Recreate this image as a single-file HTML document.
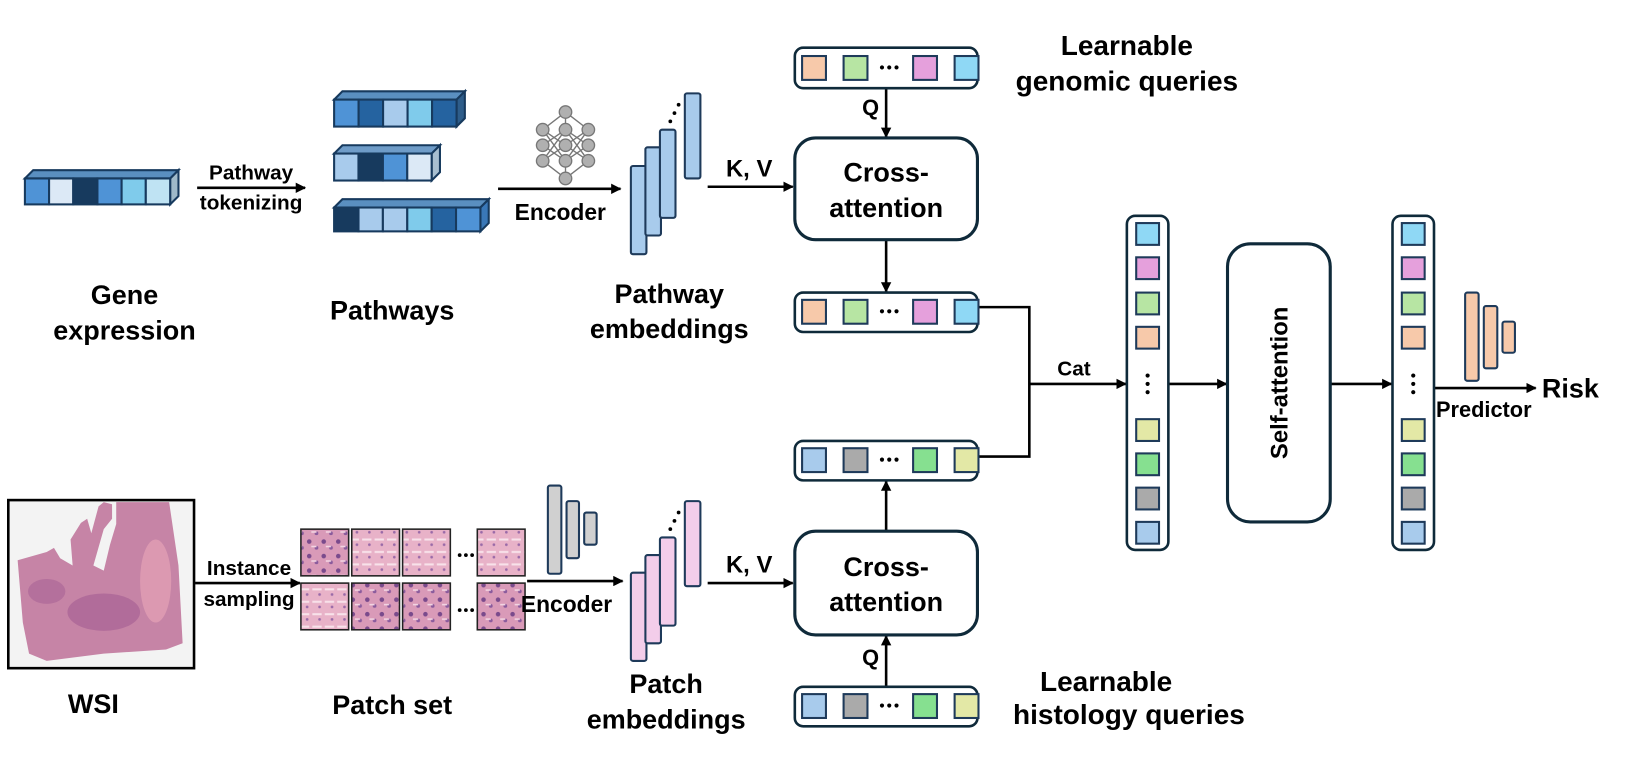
<!DOCTYPE html>
<html><head><meta charset="utf-8"><style>
html,body{margin:0;padding:0;background:#fff;}
svg{display:block;}
text{font-family:"Liberation Sans",sans-serif;font-weight:bold;fill:#000;}
</style></head><body>
<svg width="1627" height="760" viewBox="0 0 1568 732.5" preserveAspectRatio="none" xmlns="http://www.w3.org/2000/svg">
<defs>
<marker id="ah" markerWidth="10" markerHeight="10" refX="9" refY="5" orient="auto" markerUnits="userSpaceOnUse">
<path d="M0,0 L10,5 L0,10 z" fill="#000"/></marker>
<pattern id="tis" width="14" height="14" patternUnits="userSpaceOnUse">
<rect width="14" height="14" fill="#d99ab8"/>
<circle cx="4" cy="4" r="2.2" fill="#7a4a8c"/><circle cx="11" cy="10" r="1.8" fill="#8a5a9c"/><rect x="6" y="8" width="5" height="1.5" fill="#f3d6e3"/>
</pattern>
<pattern id="tis2" width="12" height="12" patternUnits="userSpaceOnUse">
<rect width="12" height="12" fill="#e8b2c8"/>
<rect x="1" y="3" width="9" height="2" fill="#f8e2ea"/><circle cx="8" cy="9" r="1.3" fill="#9a6aa8"/>
</pattern>
</defs>
<g stroke="#000" stroke-width="2.5" fill="none">
<line x1="190" y1="181" x2="294" y2="181" marker-end="url(#ah)"/>
<line x1="480" y1="182" x2="598" y2="182" marker-end="url(#ah)"/>
<line x1="682" y1="180" x2="764" y2="180" marker-end="url(#ah)"/>
<line x1="854" y1="85" x2="854" y2="132" marker-end="url(#ah)"/>
<line x1="854" y1="231" x2="854" y2="281" marker-end="url(#ah)"/>
<polyline points="942,296 992,296 992,440 942,440"/>
<line x1="992" y1="370" x2="1085" y2="370" marker-end="url(#ah)"/>
<line x1="1126" y1="370" x2="1182" y2="370" marker-end="url(#ah)"/>
<line x1="1282" y1="370" x2="1341" y2="370" marker-end="url(#ah)"/>
<line x1="1382" y1="374" x2="1480" y2="374" marker-end="url(#ah)"/>
<line x1="854" y1="512" x2="854" y2="464" marker-end="url(#ah)"/>
<line x1="854" y1="662" x2="854" y2="613" marker-end="url(#ah)"/>
<line x1="188" y1="562" x2="289" y2="562" marker-end="url(#ah)"/>
<line x1="508" y1="560" x2="600" y2="560" marker-end="url(#ah)"/>
<line x1="682" y1="562" x2="764" y2="562" marker-end="url(#ah)"/>
</g>
<!-- gene bar -->
<g stroke="#173a5e" stroke-width="2">
<polygon points="24,172 32,164 172,164 164,172" fill="#5a8fc0"/>
<polygon points="164,172 172,164 172,189 164,197" fill="#9fb9c9"/>
<rect x="24" y="172" width="23.3" height="25" fill="#4f93d6"/>
<rect x="47.3" y="172" width="23.3" height="25" fill="#dce9f6"/>
<rect x="70.6" y="172" width="23.3" height="25" fill="#173a5e"/>
<rect x="93.9" y="172" width="23.3" height="25" fill="#4f93d6"/>
<rect x="117.2" y="172" width="23.3" height="25" fill="#7fcbeb"/>
<rect x="140.5" y="172" width="23.5" height="25" fill="#bfe3f3"/>
</g>
<!-- pathway bars -->
<g stroke="#173a5e" stroke-width="2">
<polygon points="322,96 330,88 448,88 440,96" fill="#5a8fc0"/>
<polygon points="440,96 448,88 448,114 440,122" fill="#2e5d8a"/>
<rect x="322" y="96" width="23.6" height="26" fill="#4f93d6"/>
<rect x="345.6" y="96" width="23.6" height="26" fill="#2563a0"/>
<rect x="369.2" y="96" width="23.6" height="26" fill="#a8cbec"/>
<rect x="392.8" y="96" width="23.6" height="26" fill="#7fcbeb"/>
<rect x="416.4" y="96" width="23.6" height="26" fill="#2563a0"/>
<polygon points="322,148 330,140 424,140 416,148" fill="#6f9cc8"/>
<polygon points="416,148 424,140 424,166 416,174" fill="#a8bfd0"/>
<rect x="322" y="148" width="23.5" height="26" fill="#a8cbec"/>
<rect x="345.5" y="148" width="23.5" height="26" fill="#173a5e"/>
<rect x="369" y="148" width="23.5" height="26" fill="#4f93d6"/>
<rect x="392.5" y="148" width="23.5" height="26" fill="#dce9f6"/>
<polygon points="322,200 330,192 471,192 463,200" fill="#5a8fc0"/>
<polygon points="463,200 471,192 471,215 463,223" fill="#3a78b8"/>
<rect x="322" y="200" width="23.5" height="23" fill="#173a5e"/>
<rect x="345.5" y="200" width="23.5" height="23" fill="#a8cbec"/>
<rect x="369" y="200" width="23.5" height="23" fill="#a8cbec"/>
<rect x="392.5" y="200" width="23.5" height="23" fill="#7fcbeb"/>
<rect x="416" y="200" width="23.5" height="23" fill="#2563a0"/>
<rect x="439.5" y="200" width="23.5" height="23" fill="#4f93d6"/>
</g>
<!-- NN icon -->
<g stroke="#777" stroke-width="1.3">
<line x1="545" y1="108" x2="523" y2="125"/><line x1="545" y1="108" x2="567" y2="125"/><line x1="545" y1="108" x2="545" y2="125"/>
<line x1="523" y1="125" x2="545" y2="140"/><line x1="523" y1="125" x2="545" y2="155"/><line x1="523" y1="140" x2="545" y2="125"/><line x1="523" y1="140" x2="545" y2="155"/><line x1="523" y1="155" x2="545" y2="140"/><line x1="523" y1="155" x2="545" y2="125"/>
<line x1="567" y1="125" x2="545" y2="140"/><line x1="567" y1="125" x2="545" y2="155"/><line x1="567" y1="140" x2="545" y2="125"/><line x1="567" y1="140" x2="545" y2="155"/><line x1="567" y1="155" x2="545" y2="140"/><line x1="567" y1="155" x2="545" y2="125"/>
<line x1="545" y1="172" x2="523" y2="155"/><line x1="545" y1="172" x2="567" y2="155"/><line x1="545" y1="172" x2="545" y2="155"/>
</g>
<g fill="#b0b0b0" stroke="#777" stroke-width="1.3">
<circle cx="545" cy="108" r="6"/><circle cx="523" cy="125" r="6"/><circle cx="545" cy="125" r="6"/><circle cx="567" cy="125" r="6"/>
<circle cx="523" cy="140" r="6"/><circle cx="545" cy="140" r="6"/><circle cx="567" cy="140" r="6"/>
<circle cx="523" cy="155" r="6"/><circle cx="545" cy="155" r="6"/><circle cx="567" cy="155" r="6"/><circle cx="545" cy="172" r="6"/>
</g>
<!-- pathway embeddings -->
<g stroke="#1e3a5a" stroke-width="2" fill="#a8cbec">
<rect x="608" y="160" width="15" height="85" rx="2"/>
<rect x="622" y="142" width="15" height="85" rx="2"/>
<rect x="636" y="125" width="15" height="85" rx="2"/>
<rect x="660" y="90" width="15" height="82" rx="2"/>
</g>
<g fill="#000"><circle cx="646" cy="117" r="1.8"/><circle cx="650" cy="109" r="1.8"/><circle cx="654" cy="101" r="1.8"/></g>
<!-- patch embeddings -->
<g stroke="#1e3a5a" stroke-width="2" fill="#f3cdea">
<rect x="608" y="552" width="15" height="85" rx="2"/>
<rect x="622" y="535" width="15" height="85" rx="2"/>
<rect x="636" y="518" width="15" height="85" rx="2"/>
<rect x="660" y="483" width="15" height="82" rx="2"/>
</g>
<g fill="#000"><circle cx="646" cy="510" r="1.8"/><circle cx="650" cy="502" r="1.8"/><circle cx="654" cy="494" r="1.8"/></g>
<!-- grey encoder -->
<g stroke="#1e3a5a" stroke-width="2" fill="#d0d0d0">
<rect x="528" y="468" width="13" height="85" rx="2"/>
<rect x="546" y="483" width="12" height="55" rx="2"/>
<rect x="563" y="494" width="12" height="31" rx="2"/>
</g>
<!-- predictor bars -->
<g stroke="#1e3a5a" stroke-width="2" fill="#f7c9aa">
<rect x="1412" y="282" width="13" height="85" rx="2"/>
<rect x="1430" y="295" width="13" height="60" rx="2"/>
<rect x="1448" y="310" width="12" height="30" rx="2"/>
</g>
<!-- boxes -->
<g stroke="#0f2a3a" stroke-width="3" fill="#fff">
<rect x="766" y="133" width="176" height="98" rx="20"/>
<rect x="766" y="512" width="176" height="100" rx="20"/>
<rect x="1183" y="235" width="99" height="268" rx="22"/>
</g>
<g stroke="#0f2a3a" stroke-width="2.5" fill="#fff">
<rect x="766" y="46" width="176" height="39" rx="8"/>
<rect x="766" y="282" width="176" height="38" rx="8"/>
<rect x="766" y="425" width="176" height="38" rx="8"/>
<rect x="766" y="662" width="176" height="38" rx="8"/>
<rect x="1086" y="208" width="40" height="322" rx="8"/>
<rect x="1342" y="208" width="40" height="322" rx="8"/>
</g>
<g stroke="#1e3a5a" stroke-width="2">
<rect x="773" y="54" width="23" height="23" fill="#f7c9aa"/><rect x="813" y="54" width="23" height="23" fill="#b7e5a3"/><rect x="880" y="54" width="23" height="23" fill="#e5a0dc"/><rect x="920" y="54" width="23" height="23" fill="#8fd8f5"/>
<rect x="773" y="289" width="23" height="23" fill="#f7c9aa"/><rect x="813" y="289" width="23" height="23" fill="#b7e5a3"/><rect x="880" y="289" width="23" height="23" fill="#e5a0dc"/><rect x="920" y="289" width="23" height="23" fill="#8fd8f5"/>
<rect x="773" y="432" width="23" height="23" fill="#a8cbec"/><rect x="813" y="432" width="23" height="23" fill="#aaaaaa"/><rect x="880" y="432" width="23" height="23" fill="#86e090"/><rect x="920" y="432" width="23" height="23" fill="#e3e8a6"/>
<rect x="773" y="669" width="23" height="23" fill="#a8cbec"/><rect x="813" y="669" width="23" height="23" fill="#aaaaaa"/><rect x="880" y="669" width="23" height="23" fill="#86e090"/><rect x="920" y="669" width="23" height="23" fill="#e3e8a6"/>
</g>
<g fill="#000">
<circle cx="850" cy="65" r="2"/><circle cx="857" cy="65" r="2"/><circle cx="864" cy="65" r="2"/>
<circle cx="850" cy="300" r="2"/><circle cx="857" cy="300" r="2"/><circle cx="864" cy="300" r="2"/>
<circle cx="850" cy="443" r="2"/><circle cx="857" cy="443" r="2"/><circle cx="864" cy="443" r="2"/>
<circle cx="850" cy="680" r="2"/><circle cx="857" cy="680" r="2"/><circle cx="864" cy="680" r="2"/>
<circle cx="1106" cy="362" r="2"/><circle cx="1106" cy="370" r="2"/><circle cx="1106" cy="378" r="2"/>
<circle cx="1362" cy="362" r="2"/><circle cx="1362" cy="370" r="2"/><circle cx="1362" cy="378" r="2"/>
</g>
<g stroke="#1e3a5a" stroke-width="2">
<rect x="1095" y="215" width="22" height="21" fill="#8fd8f5"/><rect x="1095" y="248" width="22" height="21" fill="#e5a0dc"/><rect x="1095" y="282" width="22" height="21" fill="#b7e5a3"/><rect x="1095" y="315" width="22" height="21" fill="#f7c9aa"/>
<rect x="1095" y="404" width="22" height="21" fill="#e3e8a6"/><rect x="1095" y="437" width="22" height="21" fill="#86e090"/><rect x="1095" y="470" width="22" height="21" fill="#aaaaaa"/><rect x="1095" y="503" width="22" height="21" fill="#a8cbec"/>
<rect x="1351" y="215" width="22" height="21" fill="#8fd8f5"/><rect x="1351" y="248" width="22" height="21" fill="#e5a0dc"/><rect x="1351" y="282" width="22" height="21" fill="#b7e5a3"/><rect x="1351" y="315" width="22" height="21" fill="#f7c9aa"/>
<rect x="1351" y="404" width="22" height="21" fill="#e3e8a6"/><rect x="1351" y="437" width="22" height="21" fill="#86e090"/><rect x="1351" y="470" width="22" height="21" fill="#aaaaaa"/><rect x="1351" y="503" width="22" height="21" fill="#a8cbec"/>
</g>
<!-- WSI -->
<rect x="8" y="482" width="179" height="162" fill="#f3f3f3" stroke="#000" stroke-width="2.5"/>
<path d="M17,540 L45,532 L52,528 L58,538 L70,545 L68,520 L78,504 L84,500 L88,514 L95,488 L100,484 L108,486 L108,500 L100,510 L90,545 L100,550 L106,525 L112,505 L112,484 L163,484 L172,545 L176,620 L160,626 L100,630 L45,637 L28,630 L22,600 Z" fill="#c684a6"/>
<ellipse cx="100" cy="590" rx="35" ry="18" fill="#a86296" opacity="0.7"/>
<ellipse cx="45" cy="570" rx="18" ry="12" fill="#a86296" opacity="0.6"/>
<ellipse cx="150" cy="560" rx="15" ry="40" fill="#e6a2b6" opacity="0.7"/>
<!-- patches -->
<g stroke="#222" stroke-width="1.5">
<rect x="290" y="510" width="46" height="45" fill="url(#tis)"/><rect x="339" y="510" width="46" height="45" fill="url(#tis2)"/><rect x="388" y="510" width="46" height="45" fill="url(#tis2)"/><rect x="460" y="510" width="46" height="45" fill="url(#tis2)"/>
<rect x="290" y="562" width="46" height="45" fill="url(#tis2)"/><rect x="339" y="562" width="46" height="45" fill="url(#tis)"/><rect x="388" y="562" width="46" height="45" fill="url(#tis)"/><rect x="460" y="562" width="46" height="45" fill="url(#tis)"/>
</g>
<g fill="#000"><circle cx="443" cy="535" r="1.8"/><circle cx="449" cy="535" r="1.8"/><circle cx="455" cy="535" r="1.8"/>
<circle cx="443" cy="588" r="1.8"/><circle cx="449" cy="588" r="1.8"/><circle cx="455" cy="588" r="1.8"/></g>
<!-- text -->
<g text-anchor="middle">
<text x="242" y="173" font-size="20">Pathway</text>
<text x="242" y="202" font-size="20">tokenizing</text>
<text x="540" y="212" font-size="22">Encoder</text>
<text x="722" y="170" font-size="23">K, V</text>
<text x="722" y="552" font-size="23">K, V</text>
<text x="854" y="175" font-size="26">Cross-</text>
<text x="854" y="209" font-size="26">attention</text>
<text x="854" y="555" font-size="26">Cross-</text>
<text x="854" y="589" font-size="26">attention</text>
<text x="839" y="111" font-size="21">Q</text>
<text x="839" y="641" font-size="21">Q</text>
<text x="1086" y="53" font-size="27">Learnable</text>
<text x="1086" y="87" font-size="27">genomic queries</text>
<text x="1066" y="666" font-size="27">Learnable</text>
<text x="1088" y="698" font-size="27">histology queries</text>
<text x="120" y="293" font-size="26">Gene</text>
<text x="120" y="327" font-size="26">expression</text>
<text x="378" y="308" font-size="26">Pathways</text>
<text x="645" y="292" font-size="26">Pathway</text>
<text x="645" y="326" font-size="26">embeddings</text>
<text x="1035" y="362" font-size="20">Cat</text>
<text x="1430" y="402" font-size="21">Predictor</text>
<text x="240" y="554" font-size="20">Instance</text>
<text x="240" y="584" font-size="20">sampling</text>
<text x="546" y="590" font-size="22">Encoder</text>
<text x="90" y="687" font-size="26">WSI</text>
<text x="378" y="688" font-size="26">Patch set</text>
<text x="642" y="668" font-size="26">Patch</text>
<text x="642" y="702" font-size="26">embeddings</text>
<text x="0" y="0" font-size="23" transform="translate(1241,369) rotate(-90)">Self-attention</text>
</g>
<text x="1486" y="383" font-size="26">Risk</text>
</svg>
</body></html>
